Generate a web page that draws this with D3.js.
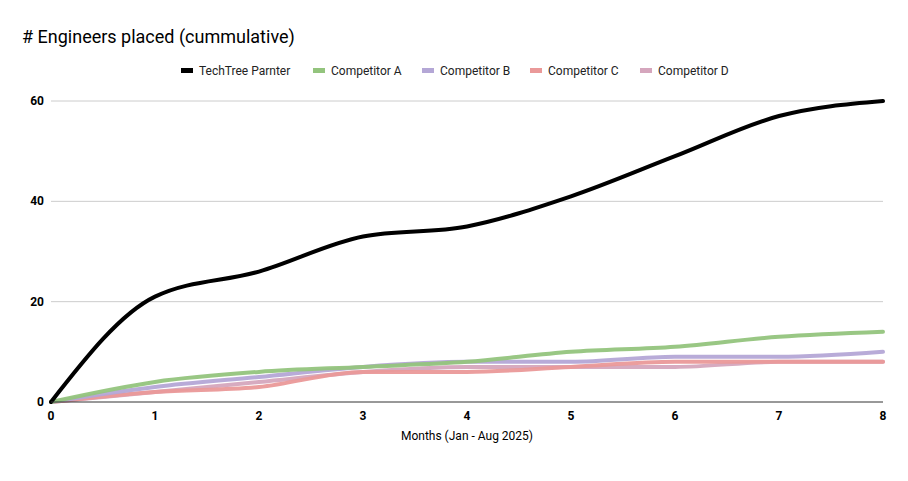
<!DOCTYPE html><html><head><meta charset="utf-8"><script src="https://cdn.jsdelivr.net/npm/d3@7"></script>
<style>body{margin:0;background:#fff;font-family:Roboto,Arial,sans-serif}</style></head><body><svg id="c" width="908" height="481"></svg>
<script>
const months=[0,1,2,3,4,5,6,7,8];
const seriesNames=["TechTree Parnter","Competitor A","Competitor B","Competitor C","Competitor D"];
const colors=["#000000","#93c47d","#b4a7d6","#ea9999","#d5a6bd"];
const techtree=[0,21,26,33,35,41,49,57,60];
const compA=[0,4,6,7,8,10,11,13,14];
const compB=[0,3,5,7,8,8,9,9,10];
const compC=[0,2,3,6,6,7,8,8,8];
const compD=[0,2,4,6,7,7,7,8,8];
const yTicks=[0,20,40,60];
const data=[techtree,compA,compB,compC,compD];
const svg=d3.select("#c");
const x=d3.scaleLinear().domain([0,8]).range([51,883]);
const y=d3.scaleLinear().domain([0,60]).range([402,101]);
svg.append("text").attr("x",22).attr("y",43).attr("font-size",18).attr("fill","#000").text("# Engineers placed (cummulative)");
const g=svg.append("g");
g.selectAll("line.grid").data(yTicks.slice(1)).join("line").attr("x1",51).attr("x2",883).attr("y1",d=>y(d)).attr("y2",d=>y(d)).attr("stroke","#ccc");
g.selectAll("text.yt").data(yTicks).join("text").attr("x",44).attr("y",d=>y(d)+4).attr("text-anchor","end").attr("font-size",12).attr("font-weight","bold").text(d=>d);
g.selectAll("text.xt").data(months).join("text").attr("x",d=>x(d)).attr("y",420).attr("text-anchor","middle").attr("font-size",12).attr("font-weight","bold").text(d=>d);
svg.append("text").attr("x",467).attr("y",440).attr("text-anchor","middle").attr("font-size",12).text("Months (Jan - Aug 2025)");
const line=d3.line().x((d,i)=>x(months[i])).y(d=>y(d)).curve(d3.curveMonotoneX);
for(let k=data.length-1;k>=0;k--){
 svg.append("path").attr("d",line(data[k])).attr("fill","none").attr("stroke",colors[k]).attr("stroke-width",k==0?4:4).attr("stroke-linecap","round").attr("opacity",k==0?1:0.95);
}
svg.append("line").attr("x1",51).attr("x2",883).attr("y1",402).attr("y2",402).attr("stroke","#333");
const lx=[181,313,422,530,640];
seriesNames.forEach((n,i)=>{
 svg.append("rect").attr("x",lx[i]).attr("y",68).attr("width",12).attr("height",5).attr("fill",colors[i]);
 svg.append("text").attr("x",lx[i]+18).attr("y",75).attr("font-size",12).attr("fill","#222").text(n);
});
</script></body></html>
